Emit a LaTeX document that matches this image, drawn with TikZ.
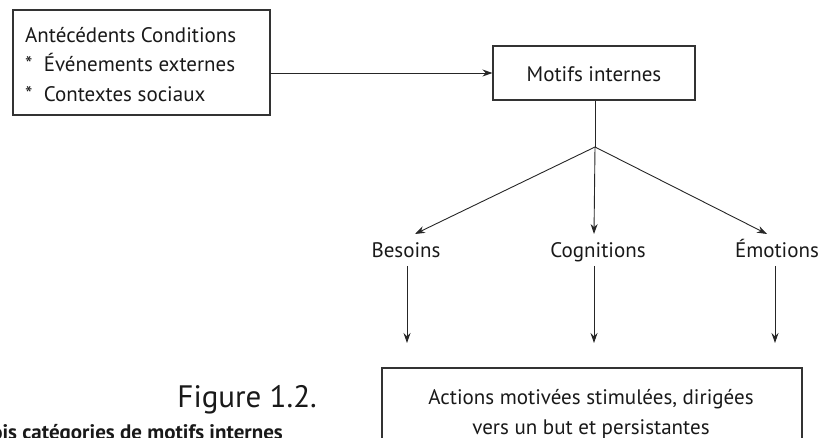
\documentclass[tikz,border=0pt]{standalone}
\usepackage{fontspec}
\setmainfont{PT Sans}
\usetikzlibrary{arrows.meta}
\begin{document}
\begin{tikzpicture}[x=1pt,y=-1pt,
  lbl/.style={font=\fontsize{21}{25}\selectfont, inner sep=0pt, text=black!90},
  conn/.style={draw=black!85, line width=0.9pt},
  arr/.style={conn, -{Stealth[length=10pt,width=7pt]}},
  boxline/.style={draw=black!80, line width=1.1pt}]
\useasboundingbox (0,0) rectangle (819,438);
\clip (0,0) rectangle (819,438);
% left box
\node[boxline, minimum width=257pt, minimum height=105pt, inner sep=0pt] (lb) at (141.5,62.5) {};
\node[lbl, anchor=base west] (t1) at (25,43) {Antécédents Conditions};
\node[lbl, anchor=base west] (t2) at (25,72) {*\ \ Événements externes};
\node[lbl, anchor=base west] (t3) at (25,102) {*\ \ Contextes sociaux};
\coordinate (lbr) at (270,73);
% motifs box
\node[boxline, minimum width=202pt, minimum height=54pt, inner sep=0pt] (mot) at (594,73) {};
\node[lbl, anchor=base] (mott) at (594,82) {Motifs internes};
\draw[arr] (lbr) -- (mot.west);
% junction
\coordinate (j) at (595,147);
\draw[conn] (mot.south -| j) -- (j);
\node[lbl, anchor=base] (bes) at (406,258) {Besoins};
\node[lbl, anchor=base] (cog) at (598,258) {Cognitions};
\node[lbl, anchor=base] (emo) at (777,258) {Émotions};
\coordinate (tb) at (415,234);
\coordinate (tc) at (594,234);
\coordinate (te) at (767,234);
\draw[arr] (j) -- (tb);
\draw[arr] (j) -- (tc);
\draw[arr] (j) -- (te);
% bottom box
\node[boxline, minimum width=420pt, minimum height=90pt, inner sep=0pt] (act) at (592,413) {};
\node[lbl, anchor=base] (a1) at (591,404) {Actions motivées stimulées, dirigées};
\node[lbl, anchor=base] (a2) at (591,434) {vers un but et persistantes};
\coordinate (sb) at (407,266);
\coordinate (sc) at (594,266);
\coordinate (se) at (775,266);
\draw[arr] (sb) -- (sb |- 0,343);
\draw[arr] (sc) -- (sc |- 0,343);
\draw[arr] (se) -- (se |- 0,343);
% caption
\node[anchor=base east, inner sep=0pt, text=black!90] (fig) at (317,407)
  {\fontsize{31}{34}\selectfont Figure 1.2.};
\node[anchor=base east, inner sep=0pt, text=black!90, font=\fontsize{21}{25}\selectfont\bfseries] (cap) at (283,439)
  {Trois catégories de motifs internes};
\end{tikzpicture}
\end{document}
